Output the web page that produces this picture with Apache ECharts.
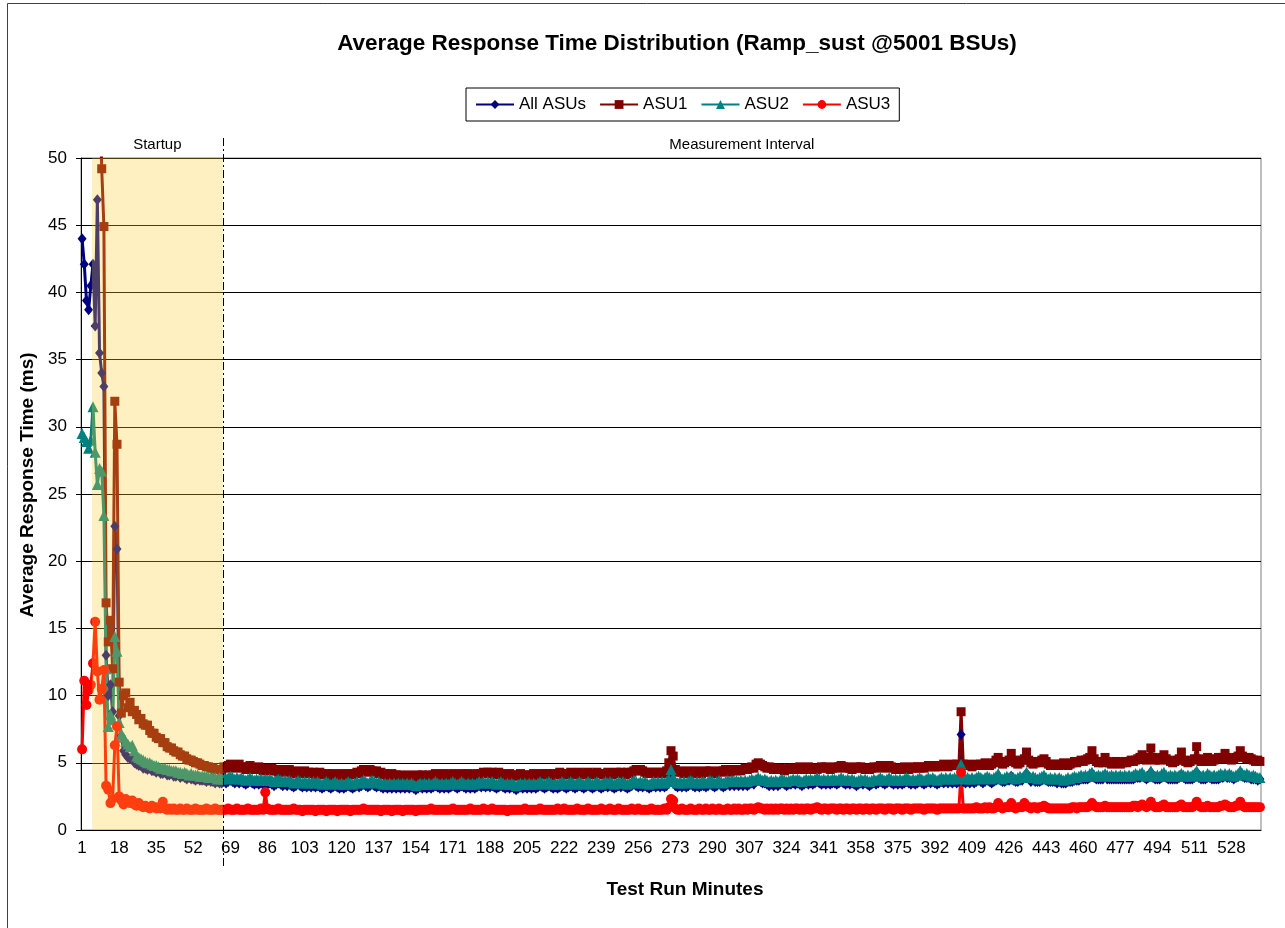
<!DOCTYPE html>
<html>
<head>
<meta charset="utf-8">
<title>Average Response Time Distribution</title>
<script src="https://cdn.jsdelivr.net/npm/echarts@6/dist/echarts.min.js"></script>
<style>
  html, body { margin: 0; padding: 0; background: #fff; }
  #chart { width: 1285px; height: 928px; }
</style>
</head>
<body>
<div id="chart"></div>
<script>
// Average response time per test-run minute (ms), startup phase: minutes 1-65
const allAsusStartup = [
  44.0, 42.1, 39.4, 38.7, 40.5, 42.1, 37.5, 46.9, 35.5, 34.0, 33.0, 13.0, 10.0, 10.8, 8.8, 22.6, 20.9, 8.5, 7.0, 5.9, 5.6, 5.4, 5.3, 5.3, 5.0,
  4.9, 4.8, 4.8, 4.6, 4.6, 4.5, 4.6, 4.4, 4.4, 4.3, 4.4, 4.2, 4.2, 4.3, 4.1, 4.1, 4.2, 4.0, 4.0, 4.1,
  3.9, 4.0, 3.9, 3.8, 3.9, 3.8, 3.8, 3.7, 3.8, 3.7, 3.7, 3.7, 3.6, 3.7, 3.6, 3.6, 3.5, 3.6, 3.5, 3.5
];
const asu1Startup = [
  65.0, 59.0, 56.0, 54.0, 55.0, 57.0, 52.0, 68.0, 56.0, 49.2, 44.9, 16.9, 14.0, 15.6, 12.0, 31.9, 28.7, 11.0, 8.7, 10.0, 10.2, 9.1, 9.5, 8.8, 8.9,
  8.6, 8.2, 8.3, 7.9, 7.8, 7.8, 7.4, 7.2, 7.2, 6.9, 6.8, 6.8, 6.5, 6.5, 6.2, 6.1, 6.1, 5.9, 5.8, 5.8,
  5.6, 5.5, 5.5, 5.3, 5.2, 5.2, 5.1, 5.0, 5.0, 4.9, 4.8, 4.8, 4.7, 4.7, 4.6, 4.6, 4.5, 4.5, 4.5, 4.4
];
const asu2Startup = [
  29.5, 29.2, 28.9, 28.4, 29.0, 31.5, 28.1, 25.7, 26.9, 26.7, 23.4, 12.0, 7.7, 8.6, 8.2, 14.4, 13.3, 8.0, 7.1, 6.9, 6.6, 6.4, 6.2, 6.3, 5.9,
  5.5, 5.4, 5.3, 5.2, 5.1, 5.0, 5.0, 4.9, 4.8, 4.8, 4.7, 4.6, 4.6, 4.6, 4.5, 4.5, 4.4, 4.4, 4.4, 4.3,
  4.3, 4.2, 4.3, 4.2, 4.1, 4.2, 4.1, 4.1, 4.1, 4.0, 4.0, 4.0, 4.0, 3.9, 3.9, 3.9, 3.9, 3.8, 3.9, 3.8
];
const asu3Startup = [
  6.0, 11.1, 9.3, 10.4, 10.8, 12.4, 15.5, 11.8, 9.7, 10.5, 11.9, 3.3, 3.0, 2.0, 2.3, 6.3, 7.7, 2.5, 2.2, 1.9, 2.3, 2.1, 2.0, 2.2, 1.9,
  1.8, 2.0, 1.8, 1.7, 1.8, 1.7, 1.6, 1.8, 1.7, 1.6, 1.7, 1.6, 2.1, 1.6, 1.5, 1.6, 1.5, 1.6, 1.5, 1.5,
  1.6, 1.5, 1.5, 1.6, 1.5, 1.5, 1.5, 1.6, 1.5, 1.5, 1.5, 1.5, 1.6, 1.5, 1.5, 1.5, 1.6, 1.5, 1.5, 1.5
];

// Measurement interval: minutes 66-541
const allAsusMeasured = [
  3.6, 3.5, 3.6, 3.7, 3.6, 3.5, 3.6, 3.5, 3.6, 3.5, 3.4, 3.5, 3.6, 3.5, 3.4, 3.5, 3.4, 3.5, 3.4, 3.5,
  3.4, 3.5, 3.4, 3.3, 3.4, 3.5, 3.4, 3.3, 3.4, 3.3, 3.4, 3.3, 3.2, 3.3, 3.4, 3.3, 3.2, 3.3, 3.2, 3.3,
  3.2, 3.3, 3.2, 3.3, 3.2, 3.1, 3.2, 3.3, 3.2, 3.1, 3.2, 3.3, 3.2, 3.1, 3.2, 3.1, 3.2, 3.3, 3.2, 3.1,
  3.2, 3.3, 3.2, 3.3, 3.4, 3.3, 3.2, 3.3, 3.4, 3.3, 3.2, 3.3, 3.2, 3.1, 3.2, 3.1, 3.2, 3.1, 3.2, 3.1,
  3.2, 3.1, 3.2, 3.1, 3.2, 3.1, 3.2, 3.1, 3.0, 3.1, 3.2, 3.1, 3.2, 3.1, 3.2, 3.1, 3.2, 3.3, 3.2, 3.1,
  3.2, 3.1, 3.2, 3.1, 3.2, 3.3, 3.2, 3.1, 3.2, 3.3, 3.2, 3.1, 3.2, 3.1, 3.2, 3.1, 3.2, 3.3, 3.2, 3.3,
  3.2, 3.3, 3.2, 3.3, 3.2, 3.1, 3.2, 3.3, 3.2, 3.1, 3.2, 3.1, 3.2, 3.1, 3.0, 3.1, 3.2, 3.1, 3.2, 3.1,
  3.2, 3.1, 3.2, 3.1, 3.2, 3.3, 3.2, 3.1, 3.2, 3.3, 3.2, 3.1, 3.2, 3.1, 3.2, 3.3, 3.2, 3.1, 3.2, 3.3,
  3.2, 3.1, 3.2, 3.3, 3.2, 3.1, 3.2, 3.3, 3.2, 3.1, 3.2, 3.3, 3.2, 3.1, 3.2, 3.3, 3.2, 3.3, 3.2, 3.1,
  3.2, 3.3, 3.2, 3.3, 3.2, 3.1, 3.2, 3.3, 3.4, 3.3, 3.2, 3.3, 3.2, 3.3, 3.2, 3.1, 3.2, 3.3, 3.2, 3.3,
  3.2, 3.3, 3.2, 3.3, 3.6, 4.1, 3.7, 3.3, 3.2, 3.3, 3.2, 3.3, 3.2, 3.3, 3.4, 3.3, 3.2, 3.3, 3.2, 3.3,
  3.3, 3.2, 3.3, 3.4, 3.3, 3.2, 3.3, 3.4, 3.3, 3.2, 3.3, 3.4, 3.3, 3.4, 3.3, 3.4, 3.3, 3.4, 3.3, 3.4,
  3.3, 3.4, 3.5, 3.4, 3.6, 3.7, 3.6, 3.5, 3.5, 3.4, 3.3, 3.4, 3.3, 3.4, 3.3, 3.4, 3.5, 3.4, 3.3, 3.4,
  3.4, 3.5, 3.4, 3.5, 3.4, 3.3, 3.4, 3.5, 3.4, 3.5, 3.4, 3.5, 3.6, 3.5, 3.4, 3.5, 3.4, 3.5, 3.4, 3.5,
  3.5, 3.4, 3.5, 3.6, 3.5, 3.4, 3.5, 3.4, 3.5, 3.4, 3.3, 3.4, 3.5, 3.4, 3.5, 3.4, 3.3, 3.4, 3.5, 3.4,
  3.5, 3.6, 3.5, 3.4, 3.5, 3.6, 3.5, 3.4, 3.5, 3.4, 3.5, 3.4, 3.5, 3.6, 3.5, 3.4, 3.5, 3.4, 3.5, 3.6,
  3.5, 3.4, 3.5, 3.6, 3.5, 3.6, 3.5, 3.4, 3.5, 3.6, 3.5, 3.6, 3.5, 3.6, 3.5, 3.6, 3.5, 3.6, 7.1, 3.6,
  3.5, 3.6, 3.5, 3.6, 3.5, 3.6, 3.7, 3.6, 3.5, 3.6, 3.7, 3.6, 3.5, 3.6, 3.7, 4.0, 3.7, 3.6, 3.6, 3.7,
  3.7, 4.0, 3.7, 3.6, 3.6, 3.7, 3.7, 3.9, 4.2, 3.8, 3.6, 3.7, 3.6, 3.6, 3.6, 3.7, 3.9, 3.7, 3.6, 3.6,
  3.6, 3.6, 3.5, 3.6, 3.5, 3.5, 3.5, 3.6, 3.6, 3.6, 3.7, 3.7, 3.7, 3.8, 3.8, 3.8, 3.8, 3.9, 4.2, 3.9,
  3.8, 3.8, 3.8, 3.8, 4.0, 3.8, 3.8, 3.8, 3.8, 3.8, 3.8, 3.8, 3.8, 3.8, 3.8, 3.8, 3.8, 3.8, 3.9, 3.9,
  3.9, 4.1, 3.9, 3.8, 3.9, 4.3, 3.9, 3.8, 3.8, 3.8, 3.9, 4.1, 3.9, 3.8, 3.8, 3.8, 3.8, 3.8, 3.9, 4.1,
  3.9, 3.8, 3.8, 3.8, 3.8, 3.9, 4.3, 3.9, 3.8, 3.8, 3.8, 3.9, 3.9, 3.8, 3.8, 3.8, 3.8, 3.9, 3.9, 4.0,
  3.9, 3.9, 3.9, 3.8, 3.9, 4.0, 4.3, 4.0, 3.9, 3.9, 3.9, 3.8, 3.8, 3.8, 3.7, 3.8
];
const asu1Measured = [
  4.7, 4.6, 4.8, 4.9, 4.7, 4.6, 4.8, 4.9, 4.7, 4.6, 4.5, 4.7, 4.8, 4.6, 4.5, 4.6, 4.7, 4.5, 4.4, 4.6,
  4.5, 4.4, 4.6, 4.5, 4.4, 4.3, 4.5, 4.4, 4.3, 4.4, 4.5, 4.3, 4.2, 4.4, 4.3, 4.2, 4.3, 4.4, 4.2, 4.3,
  4.2, 4.3, 4.1, 4.2, 4.3, 4.2, 4.1, 4.2, 4.0, 4.1, 4.2, 4.1, 4.0, 4.1, 4.2, 4.1, 4.0, 4.1, 4.2, 4.1,
  4.2, 4.3, 4.2, 4.4, 4.5, 4.4, 4.3, 4.5, 4.4, 4.3, 4.4, 4.2, 4.3, 4.1, 4.2, 4.0, 4.1, 4.2, 4.0, 4.1,
  4.0, 4.1, 4.0, 3.9, 4.0, 4.1, 4.0, 3.9, 4.0, 4.1, 4.0, 4.1, 4.0, 3.9, 4.1, 4.0, 4.1, 4.2, 4.1, 4.0,
  4.1, 4.2, 4.1, 4.0, 4.1, 4.2, 4.1, 4.0, 4.1, 4.2, 4.0, 4.1, 4.2, 4.1, 4.0, 4.1, 4.2, 4.1, 4.2, 4.3,
  4.2, 4.3, 4.2, 4.3, 4.1, 4.2, 4.3, 4.2, 4.1, 4.0, 4.1, 4.2, 4.0, 4.1, 4.0, 4.1, 4.2, 4.1, 4.0, 4.1,
  4.0, 4.1, 4.2, 4.1, 4.0, 4.1, 4.2, 4.1, 4.2, 4.1, 4.0, 4.2, 4.1, 4.2, 4.3, 4.1, 4.2, 4.1, 4.2, 4.3,
  4.2, 4.1, 4.2, 4.3, 4.2, 4.1, 4.2, 4.3, 4.2, 4.1, 4.2, 4.3, 4.2, 4.2, 4.1, 4.2, 4.3, 4.2, 4.1, 4.2,
  4.3, 4.2, 4.3, 4.2, 4.1, 4.3, 4.2, 4.3, 4.4, 4.5, 4.4, 4.5, 4.4, 4.3, 4.2, 4.3, 4.2, 4.3, 4.2, 4.3,
  4.2, 4.3, 4.2, 4.4, 5.0, 5.9, 5.5, 4.5, 4.3, 4.4, 4.3, 4.2, 4.3, 4.4, 4.3, 4.2, 4.3, 4.4, 4.3, 4.2,
  4.3, 4.4, 4.3, 4.4, 4.3, 4.2, 4.3, 4.4, 4.3, 4.4, 4.5, 4.4, 4.3, 4.4, 4.5, 4.4, 4.5, 4.4, 4.5, 4.6,
  4.5, 4.6, 4.7, 4.6, 4.9, 5.0, 4.9, 4.8, 4.7, 4.6, 4.7, 4.6, 4.5, 4.6, 4.5, 4.6, 4.5, 4.4, 4.5, 4.6,
  4.5, 4.6, 4.5, 4.6, 4.7, 4.6, 4.5, 4.6, 4.7, 4.6, 4.5, 4.6, 4.5, 4.6, 4.7, 4.6, 4.7, 4.6, 4.5, 4.6,
  4.7, 4.6, 4.7, 4.8, 4.7, 4.6, 4.7, 4.6, 4.5, 4.6, 4.7, 4.6, 4.7, 4.6, 4.5, 4.6, 4.5, 4.6, 4.7, 4.6,
  4.7, 4.8, 4.7, 4.6, 4.7, 4.8, 4.7, 4.6, 4.5, 4.6, 4.5, 4.6, 4.7, 4.6, 4.5, 4.6, 4.7, 4.6, 4.7, 4.6,
  4.7, 4.6, 4.7, 4.8, 4.7, 4.8, 4.7, 4.8, 4.7, 4.8, 4.9, 4.8, 4.7, 4.8, 4.9, 4.8, 4.9, 4.8, 8.8, 4.9,
  4.8, 4.9, 4.8, 4.7, 4.8, 4.9, 4.8, 4.9, 4.8, 5.0, 4.9, 4.8, 4.9, 5.0, 5.2, 5.4, 5.1, 4.9, 5.0, 5.1,
  5.2, 5.7, 5.2, 5.0, 4.9, 5.0, 5.2, 5.3, 5.8, 5.2, 5.0, 4.9, 5.0, 5.1, 5.0, 5.2, 5.3, 5.1, 4.9, 4.8,
  4.9, 4.8, 4.9, 4.8, 4.9, 5.0, 4.9, 4.8, 4.9, 5.0, 5.1, 5.0, 5.1, 5.2, 5.1, 5.2, 5.3, 5.4, 5.9, 5.3,
  5.1, 5.0, 5.1, 5.0, 5.4, 5.1, 5.0, 4.9, 5.0, 5.1, 5.0, 4.9, 5.0, 5.1, 5.0, 5.1, 5.2, 5.1, 5.2, 5.3,
  5.4, 5.6, 5.3, 5.2, 5.4, 6.1, 5.4, 5.2, 5.3, 5.2, 5.4, 5.6, 5.3, 5.2, 5.1, 5.0, 5.1, 5.2, 5.3, 5.8,
  5.2, 5.1, 5.0, 5.1, 5.2, 5.3, 6.2, 5.3, 5.1, 5.2, 5.1, 5.4, 5.2, 5.1, 5.2, 5.3, 5.4, 5.3, 5.4, 5.7,
  5.4, 5.3, 5.2, 5.3, 5.4, 5.5, 5.9, 5.5, 5.4, 5.3, 5.4, 5.3, 5.2, 5.1, 5.2, 5.1
];
const asu2Measured = [
  3.9, 3.8, 3.9, 4.0, 3.9, 3.8, 3.9, 3.8, 3.9, 3.8, 3.7, 3.8, 3.9, 3.8, 3.7, 3.8, 3.7, 3.8, 3.7, 3.8,
  3.7, 3.8, 3.7, 3.6, 3.7, 3.8, 3.7, 3.6, 3.7, 3.6, 3.7, 3.6, 3.5, 3.6, 3.7, 3.6, 3.5, 3.6, 3.5, 3.6,
  3.5, 3.6, 3.5, 3.6, 3.5, 3.4, 3.5, 3.6, 3.5, 3.4, 3.5, 3.6, 3.5, 3.4, 3.5, 3.4, 3.5, 3.6, 3.5, 3.4,
  3.5, 3.6, 3.5, 3.6, 3.7, 3.6, 3.5, 3.6, 3.7, 3.6, 3.5, 3.6, 3.5, 3.4, 3.5, 3.4, 3.5, 3.4, 3.5, 3.4,
  3.5, 3.4, 3.5, 3.4, 3.5, 3.4, 3.5, 3.4, 3.3, 3.4, 3.5, 3.4, 3.5, 3.4, 3.5, 3.4, 3.5, 3.6, 3.5, 3.4,
  3.5, 3.4, 3.5, 3.4, 3.5, 3.6, 3.5, 3.4, 3.5, 3.6, 3.5, 3.4, 3.5, 3.4, 3.5, 3.4, 3.5, 3.6, 3.5, 3.6,
  3.5, 3.6, 3.5, 3.6, 3.5, 3.4, 3.5, 3.6, 3.5, 3.4, 3.5, 3.4, 3.5, 3.4, 3.3, 3.4, 3.5, 3.4, 3.5, 3.4,
  3.5, 3.4, 3.5, 3.4, 3.5, 3.6, 3.5, 3.4, 3.5, 3.6, 3.5, 3.4, 3.5, 3.4, 3.5, 3.6, 3.5, 3.4, 3.5, 3.6,
  3.5, 3.4, 3.5, 3.6, 3.5, 3.4, 3.5, 3.6, 3.5, 3.4, 3.5, 3.6, 3.5, 3.4, 3.5, 3.6, 3.5, 3.6, 3.5, 3.4,
  3.5, 3.6, 3.5, 3.6, 3.5, 3.4, 3.5, 3.6, 3.7, 3.6, 3.5, 3.6, 3.5, 3.6, 3.5, 3.4, 3.5, 3.6, 3.5, 3.6,
  3.5, 3.6, 3.5, 3.6, 3.8, 4.5, 3.9, 3.6, 3.5, 3.6, 3.5, 3.6, 3.5, 3.6, 3.7, 3.6, 3.5, 3.6, 3.5, 3.6,
  3.6, 3.5, 3.6, 3.7, 3.6, 3.5, 3.6, 3.7, 3.6, 3.5, 3.6, 3.7, 3.6, 3.7, 3.6, 3.7, 3.6, 3.7, 3.6, 3.7,
  3.6, 3.7, 3.8, 3.7, 3.8, 3.9, 3.8, 3.7, 3.8, 3.7, 3.6, 3.7, 3.6, 3.7, 3.6, 3.7, 3.8, 3.7, 3.6, 3.7,
  3.7, 3.8, 3.7, 3.8, 3.7, 3.6, 3.7, 3.8, 3.7, 3.8, 3.7, 3.8, 3.9, 3.8, 3.7, 3.8, 3.7, 3.8, 3.7, 3.8,
  3.8, 3.7, 3.8, 3.9, 3.8, 3.7, 3.8, 3.7, 3.8, 3.7, 3.6, 3.7, 3.8, 3.7, 3.8, 3.7, 3.6, 3.7, 3.8, 3.7,
  3.8, 3.9, 3.8, 3.7, 3.8, 3.9, 3.8, 3.7, 3.8, 3.7, 3.8, 3.7, 3.8, 3.9, 3.8, 3.7, 3.8, 3.7, 3.8, 3.9,
  3.8, 3.7, 3.8, 3.9, 3.8, 3.9, 3.8, 3.7, 3.8, 3.9, 3.8, 3.9, 3.8, 3.9, 3.8, 3.9, 3.8, 3.9, 4.9, 3.9,
  3.8, 3.9, 3.8, 3.9, 3.8, 3.9, 4.0, 3.9, 3.8, 3.9, 4.0, 3.9, 3.8, 3.9, 4.0, 4.2, 3.9, 3.8, 3.9, 4.0,
  3.9, 4.0, 3.9, 3.8, 3.9, 4.0, 3.9, 4.1, 4.3, 4.0, 3.9, 4.0, 3.9, 3.8, 3.9, 4.0, 4.1, 3.9, 3.8, 3.9,
  3.8, 3.9, 3.8, 3.9, 3.8, 3.7, 3.8, 3.9, 3.8, 3.9, 4.0, 3.9, 4.0, 4.1, 4.0, 4.1, 4.0, 4.2, 4.3, 4.1,
  4.0, 4.1, 4.0, 4.1, 4.2, 4.1, 4.0, 4.1, 4.0, 4.1, 4.0, 4.1, 4.0, 4.1, 4.0, 4.1, 4.0, 4.1, 4.2, 4.1,
  4.2, 4.3, 4.1, 4.0, 4.1, 4.4, 4.1, 4.0, 4.1, 4.0, 4.2, 4.3, 4.1, 4.0, 4.1, 4.0, 4.1, 4.0, 4.1, 4.2,
  4.1, 4.0, 4.1, 4.0, 4.1, 4.2, 4.4, 4.1, 4.0, 4.1, 4.0, 4.2, 4.1, 4.0, 4.1, 4.0, 4.1, 4.2, 4.1, 4.2,
  4.1, 4.2, 4.1, 4.0, 4.1, 4.2, 4.4, 4.2, 4.1, 4.2, 4.1, 4.0, 4.1, 4.0, 3.9, 3.9
];
const asu3Measured = [
  1.5, 1.5, 1.6, 1.5, 1.5, 1.5, 1.6, 1.5, 1.5, 1.5, 1.5, 1.6, 1.5, 1.5, 1.5, 1.5, 1.5, 1.6, 1.5, 2.8,
  1.6, 1.5, 1.5, 1.5, 1.5, 1.6, 1.5, 1.5, 1.5, 1.5, 1.5, 1.5, 1.6, 1.5, 1.5, 1.5, 1.4, 1.5, 1.5, 1.5,
  1.5, 1.5, 1.4, 1.5, 1.5, 1.5, 1.5, 1.4, 1.5, 1.5, 1.5, 1.5, 1.4, 1.5, 1.5, 1.5, 1.5, 1.5, 1.4, 1.5,
  1.5, 1.5, 1.5, 1.5, 1.6, 1.5, 1.5, 1.5, 1.5, 1.5, 1.5, 1.5, 1.4, 1.5, 1.5, 1.5, 1.5, 1.4, 1.5, 1.5,
  1.5, 1.5, 1.4, 1.5, 1.5, 1.5, 1.5, 1.5, 1.4, 1.5, 1.5, 1.5, 1.5, 1.5, 1.5, 1.6, 1.5, 1.5, 1.5, 1.5,
  1.5, 1.5, 1.5, 1.5, 1.5, 1.6, 1.5, 1.5, 1.5, 1.5, 1.5, 1.5, 1.5, 1.6, 1.5, 1.5, 1.5, 1.5, 1.5, 1.6,
  1.5, 1.5, 1.5, 1.6, 1.5, 1.5, 1.5, 1.5, 1.5, 1.5, 1.4, 1.5, 1.5, 1.5, 1.5, 1.5, 1.5, 1.5, 1.6, 1.5,
  1.5, 1.5, 1.5, 1.5, 1.5, 1.6, 1.5, 1.5, 1.5, 1.5, 1.5, 1.5, 1.5, 1.6, 1.5, 1.5, 1.6, 1.5, 1.5, 1.5,
  1.5, 1.5, 1.6, 1.5, 1.5, 1.5, 1.5, 1.6, 1.5, 1.5, 1.5, 1.5, 1.5, 1.6, 1.5, 1.5, 1.5, 1.6, 1.5, 1.5,
  1.5, 1.6, 1.5, 1.5, 1.5, 1.5, 1.5, 1.6, 1.5, 1.5, 1.6, 1.5, 1.5, 1.5, 1.5, 1.5, 1.6, 1.5, 1.5, 1.5,
  1.5, 1.5, 1.6, 1.5, 1.7, 2.3, 2.2, 1.6, 1.5, 1.5, 1.6, 1.5, 1.5, 1.5, 1.6, 1.5, 1.5, 1.5, 1.6, 1.5,
  1.5, 1.6, 1.5, 1.5, 1.6, 1.5, 1.5, 1.6, 1.5, 1.5, 1.5, 1.6, 1.5, 1.5, 1.6, 1.5, 1.6, 1.5, 1.5, 1.6,
  1.5, 1.6, 1.6, 1.5, 1.6, 1.7, 1.6, 1.6, 1.5, 1.6, 1.5, 1.6, 1.5, 1.6, 1.5, 1.6, 1.6, 1.5, 1.6, 1.5,
  1.6, 1.5, 1.6, 1.6, 1.5, 1.6, 1.5, 1.6, 1.6, 1.5, 1.6, 1.6, 1.7, 1.6, 1.5, 1.6, 1.6, 1.5, 1.6, 1.6,
  1.6, 1.5, 1.6, 1.6, 1.5, 1.6, 1.6, 1.5, 1.6, 1.6, 1.5, 1.6, 1.6, 1.5, 1.6, 1.6, 1.5, 1.6, 1.6, 1.5,
  1.6, 1.6, 1.6, 1.5, 1.6, 1.6, 1.6, 1.5, 1.6, 1.6, 1.6, 1.5, 1.6, 1.6, 1.6, 1.5, 1.6, 1.6, 1.6, 1.6,
  1.6, 1.5, 1.6, 1.6, 1.6, 1.6, 1.6, 1.5, 1.6, 1.6, 1.6, 1.6, 1.6, 1.6, 1.6, 1.6, 1.6, 1.6, 4.3, 1.6,
  1.6, 1.6, 1.6, 1.6, 1.6, 1.7, 1.6, 1.6, 1.6, 1.7, 1.6, 1.7, 1.6, 1.6, 1.7, 2.0, 1.7, 1.6, 1.7, 1.7,
  1.7, 2.0, 1.7, 1.6, 1.7, 1.7, 1.7, 2.0, 1.8, 1.7, 1.6, 1.7, 1.7, 1.6, 1.7, 1.7, 1.8, 1.7, 1.6, 1.6,
  1.6, 1.6, 1.6, 1.6, 1.6, 1.6, 1.6, 1.6, 1.6, 1.7, 1.7, 1.6, 1.7, 1.7, 1.7, 1.7, 1.7, 1.8, 2.0, 1.8,
  1.7, 1.7, 1.7, 1.7, 1.8, 1.7, 1.7, 1.7, 1.7, 1.7, 1.7, 1.7, 1.7, 1.7, 1.7, 1.7, 1.7, 1.8, 1.8, 1.7,
  1.8, 1.9, 1.8, 1.7, 1.8, 2.1, 1.8, 1.7, 1.7, 1.7, 1.8, 1.9, 1.7, 1.7, 1.7, 1.7, 1.7, 1.7, 1.8, 1.9,
  1.7, 1.7, 1.7, 1.7, 1.7, 1.8, 2.1, 1.8, 1.7, 1.7, 1.7, 1.8, 1.7, 1.7, 1.7, 1.7, 1.7, 1.8, 1.8, 1.9,
  1.8, 1.7, 1.7, 1.7, 1.8, 1.8, 2.1, 1.8, 1.7, 1.7, 1.7, 1.7, 1.7, 1.7, 1.7, 1.7
];

const allAsus = allAsusStartup.concat(allAsusMeasured);
const asu1 = asu1Startup.concat(asu1Measured);
const asu2 = asu2Startup.concat(asu2Measured);
const asu3 = asu3Startup.concat(asu3Measured);

// Category labels: test-run minutes 1..N
const minutes = allAsus.map((_, i) => String(i + 1));

// Phase boundaries (minutes)
const startupFirst = '6';
const startupLast = '65';

const seriesNames = ['All ASUs', 'ASU1', 'ASU2', 'ASU3'];
const seriesColors = ['#000080', '#800000', '#008080', '#FF0000'];

const FONT = '"Liberation Sans", Arial, Helvetica, sans-serif';

const chart = echarts.init(document.getElementById('chart'), null, { renderer: 'canvas', width: 1285, height: 928 });

function lineSeries(name, data, color, symbol, size) {
  return {
    name: name,
    type: 'line',
    data: data,
    symbol: symbol,
    symbolSize: size,
    showAllSymbol: true,
    clip: true,
    itemStyle: { color: color },
    lineStyle: { color: color, width: 3 },
    emphasis: { disabled: true }
  };
}

const option = {
  animation: false,
  backgroundColor: '#ffffff',
  textStyle: { fontFamily: FONT },
  title: {
    text: 'Average Response Time Distribution (Ramp_sust @5001 BSUs)',
    left: 672,
    top: 27,
    textAlign: 'center',
    textStyle: { fontFamily: FONT, fontSize: 22.5, fontWeight: 'bold', color: '#000' }
  },
  legend: {
    data: seriesNames,
    left: 466,
    top: 88,
    orient: 'horizontal',
    itemWidth: 38,
    itemHeight: 11,
    itemGap: 13,
    padding: [8, 9],
    borderColor: '#000',
    borderWidth: 1,
    textStyle: { fontFamily: FONT, fontSize: 17, color: '#000' }
  },
  grid: {
    left: 81,
    top: 158,
    width: 1180,
    height: 672,
    show: true,
    borderColor: '#808080',
    borderWidth: 1,
    backgroundColor: 'transparent'
  },
  xAxis: {
    type: 'category',
    data: minutes,
    boundaryGap: true,
    name: 'Test Run Minutes',
    nameLocation: 'middle',
    nameGap: 50,
    nameTextStyle: { fontFamily: FONT, fontSize: 19, fontWeight: 'bold', color: '#000', padding: [0, 0, 0, 28] },
    axisLine: { lineStyle: { color: '#000', width: 1 } },
    axisTick: { interval: 0, length: 5, lineStyle: { color: '#000', width: 1 } },
    axisLabel: { interval: 16, margin: 10, fontFamily: FONT, fontSize: 17, color: '#000' },
    splitLine: { show: false }
  },
  yAxis: {
    type: 'value',
    min: 0,
    max: 50,
    interval: 5,
    name: 'Average Response Time (ms)',
    nameLocation: 'middle',
    nameRotate: 90,
    nameGap: 23,
    nameTextStyle: { fontFamily: FONT, fontSize: 19, fontWeight: 'bold', color: '#000', padding: [0, 0, 0, 18] },
    axisLine: { show: true, lineStyle: { color: '#000', width: 1 } },
    axisTick: { show: true, length: 5, lineStyle: { color: '#000' } },
    axisLabel: { margin: 14, fontFamily: FONT, fontSize: 17, color: '#000' },
    splitLine: { show: true, lineStyle: { color: '#000', width: 1 } }
  },
  series: [
    lineSeries(seriesNames[0], allAsus, seriesColors[0], 'diamond', [9, 11]),
    lineSeries(seriesNames[1], asu1, seriesColors[1], 'rect', 9),
    lineSeries(seriesNames[2], asu2, seriesColors[2], 'triangle', 11),
    lineSeries(seriesNames[3], asu3, seriesColors[3], 'circle', 10)
  ]
};

chart.setOption(option);

// Phase overlay, divider and labels are placed through the axis scales
const xAt = (cat) => chart.convertToPixel({ xAxisIndex: 0 }, cat);
const yAt = (v) => chart.convertToPixel({ yAxisIndex: 0 }, v);
const band = xAt(minutes[1]) - xAt(minutes[0]);
const xStartupLeft = xAt(startupFirst) - band / 2;
const xStartupRight = xAt(startupLast) + band / 2;
const xPlotRight = xAt(minutes[minutes.length - 1]) + band / 2;
const yTop = yAt(50);
const yBottom = yAt(0);
const divider = Math.round(xStartupRight) + 0.5;

chart.setOption({
  graphic: [
    {
      type: 'rect',
      z: 0,
      silent: true,
      shape: { x: 7.5, y: 3.5, width: 1300, height: 950 },
      style: { fill: 'none', stroke: '#404040', lineWidth: 1 }
    },
    {
      type: 'rect',
      z: 100,
      silent: true,
      shape: { x: xStartupLeft, y: yTop, width: xStartupRight - xStartupLeft, height: yBottom - yTop },
      style: { fill: 'rgba(255, 204, 51, 0.3)' }
    },
    {
      type: 'line',
      z: 101,
      silent: true,
      shape: { x1: divider, y1: yTop - 20, x2: divider, y2: yBottom + 38 },
      style: { stroke: '#000', lineWidth: 1, lineDash: [8, 3, 2, 3] }
    },
    {
      type: 'text',
      z: 101,
      silent: true,
      x: (xStartupLeft + xStartupRight) / 2,
      y: yTop - 13,
      style: { text: 'Startup', font: '15px ' + FONT, fill: '#000', align: 'center', verticalAlign: 'middle' }
    },
    {
      type: 'text',
      z: 101,
      silent: true,
      x: (xStartupRight + xPlotRight) / 2,
      y: yTop - 13,
      style: { text: 'Measurement Interval', font: '15px ' + FONT, fill: '#000', align: 'center', verticalAlign: 'middle' }
    }
  ]
});
</script>
</body>
</html>
